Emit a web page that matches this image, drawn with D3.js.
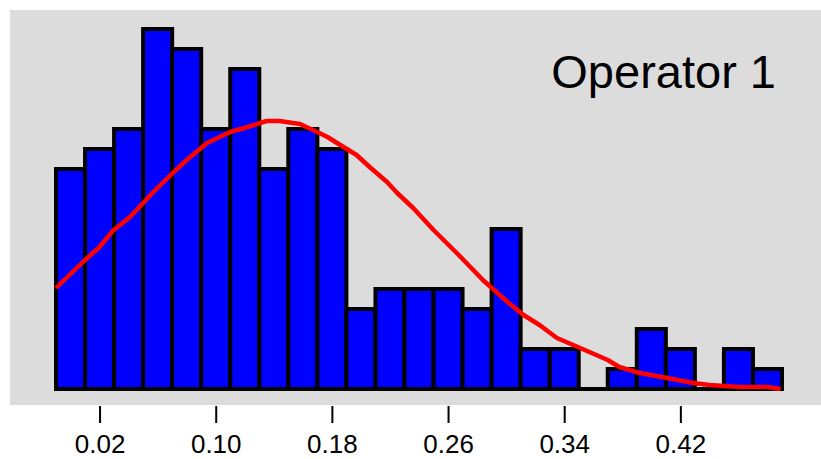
<!DOCTYPE html>
<html>
<head>
<meta charset="utf-8">
<script src="https://cdn.jsdelivr.net/npm/d3@7"></script>
<style>
  body { margin: 0; background: #fff; }
  svg { display: block; font-family: "Liberation Sans", Arial, sans-serif; }
</style>
</head>
<body>
<svg id="histSvg" width="821" height="459"></svg>
<script>
      // bin edges (width 0.02) and counts per bin
      var binStarts = [-0.01, 0.01, 0.03, 0.05, 0.07, 0.09, 0.11, 0.13, 0.15, 0.17,
                       0.19, 0.21, 0.23, 0.25, 0.27, 0.29, 0.31, 0.33, 0.35, 0.37,
                       0.39, 0.41, 0.43, 0.45, 0.47];
      var binWidth = 0.02;
      var counts = [11, 12, 13, 18, 17, 13, 16, 11, 13, 12,
                    4, 5, 5, 5, 4, 8, 2, 2, 0, 1,
                    3, 2, 0, 2, 1];

      // density curve, scaled to counts
      var curveX = [-0.010, 0.010, 0.020, 0.029, 0.041, 0.050, 0.057, 0.069, 0.080, 0.094,
                    0.110, 0.122, 0.135, 0.144, 0.158, 0.167, 0.177, 0.188, 0.197, 0.206,
                    0.218, 0.225, 0.236, 0.250, 0.266, 0.284, 0.301, 0.312, 0.323, 0.335,
                    0.351, 0.370, 0.378, 0.392, 0.411, 0.429, 0.440, 0.461, 0.480, 0.489];
      var curveY = [5.05, 6.45, 7.1, 7.9, 8.6, 9.3, 9.85, 10.7, 11.45, 12.3,
                    12.85, 13.1, 13.4, 13.4, 13.25, 12.95, 12.6, 12.1, 11.7, 11.1,
                    10.35, 9.8, 9.05, 7.95, 6.8, 5.45, 4.35, 3.7, 3.2, 2.55,
                    2.05, 1.45, 1.1, 0.8, 0.55, 0.3, 0.2, 0.1, 0.1, 0.0];

      var tickValues = [0.02, 0.10, 0.18, 0.26, 0.34, 0.42];
      var title = "Operator 1";

      var svg = d3.select('#histSvg');

      var xScale = d3.scaleLinear()
                     .domain([-0.01, 0.49])   // data space
                     .range([56, 782]);       // pixel space
      var yScale = d3.scaleLinear()
                     .domain([0, 19])
                     .range([389, 9]);

      // gray panel
      svg.append('rect')
         .attr('x', 10).attr('y', 10)
         .attr('width', 811).attr('height', 395)
         .style('fill', '#dcdcdc');

      // bars drawn as closed paths so empty bins still show the baseline
      var bars = binStarts.map((b, i) => ({ x0: b, x1: b + binWidth, n: counts[i] }));
      svg.append('g')
         .selectAll('path')
         .data(bars)
         .enter()
         .append('path')
         .attr('d', d => {
           var x0 = xScale(d.x0), x1 = xScale(d.x1), y0 = yScale(0), y1 = yScale(d.n);
           return 'M' + x0 + ',' + y0 + 'L' + x0 + ',' + y1 + 'L' + x1 + ',' + y1 + 'L' + x1 + ',' + y0 + 'Z';
         })
         .style('fill', '#0000ff')
         .style('stroke', 'black')
         .style('stroke-width', 4)
         .style('stroke-linejoin', 'miter');

      // density line
      var line = d3.line()
                   .x(d => xScale(d[0]))
                   .y(d => yScale(d[1]));
      svg.append('path')
         .datum(d3.zip(curveX, curveY))
         .attr('d', line)
         .style('fill', 'none')
         .style('stroke', '#ff0000')
         .style('stroke-width', 4.5)
         .style('stroke-linejoin', 'round');

      // x axis
      var xAxis = d3.axisBottom(xScale)
                    .tickValues(tickValues)
                    .tickFormat(d3.format('.2f'))
                    .tickSize(17)
                    .tickPadding(12);
      var ax = svg.append('g')
                  .attr('transform', 'translate(0,406)')
                  .call(xAxis);
      ax.select('.domain').remove();
      ax.selectAll('line').style('stroke', 'black').style('stroke-width', 2);
      ax.selectAll('text')
        .style('font-family', '"Liberation Sans", Arial, sans-serif')
        .style('font-size', '26px')
        .style('fill', 'black');

      // panel title
      svg.append('text')
         .attr('x', 776)
         .attr('y', 88)
         .attr('text-anchor', 'end')
         .style('font-size', '47px')
         .style('fill', 'black')
         .text(title);
</script>
</body>
</html>
